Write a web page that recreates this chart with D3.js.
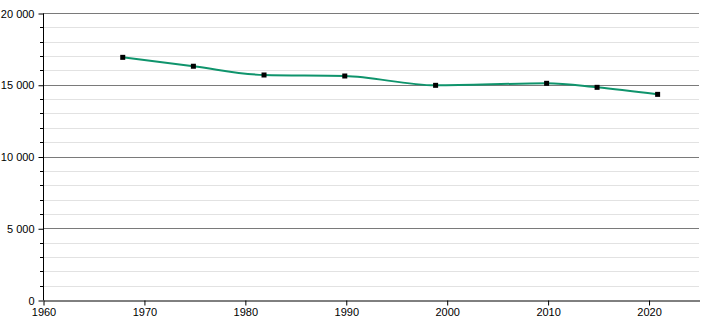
<!DOCTYPE html>
<html>
<head>
<meta charset="utf-8">
<script src="https://cdn.jsdelivr.net/npm/d3@7/dist/d3.min.js"></script>
<style>
	body { margin: 0; background: #fff; }
	text { font-family: "Liberation Sans", Arial, sans-serif; font-size: 11px; fill: #000; }
</style>
</head>
<body>
<svg id="chart" width="710" height="320"></svg>
<script>
// population by census year
var years = [ 1968, 1975, 1982, 1990, 1999, 2010, 2015, 2021 ];
var population = [ 16910, 16290, 15680, 15610, 14960, 15100, 14820, 14330 ];

var xTicks = [ 1960, 1970, 1980, 1990, 2000, 2010, 2020 ];
var yTicks = [ 0, 5000, 10000, 15000, 20000 ];

var padding = { top: 13, right: 10, bottom: 20, left: 43 };
var width = 710, height = 320;

var svg = d3.select( '#chart' );

var x = d3.scaleLinear()
	.domain( [ 1960, 2025 ] )
	.range( [ padding.left, width - padding.right - 1 ] );

var y = d3.scaleLinear()
	.domain( [ 0, 20000 ] )
	.range( [ height - padding.bottom, padding.top ] );

var fmt = function ( d ) {
	return d3.format( ',' )( d ).replace( /,/g, ' ' );
};

var minor = d3.range( 0, 20001, 1000 ).filter( function ( d ) { return d % 5000 !== 0; } );

// minor grid
svg.append( 'g' ).selectAll( 'line' )
	.data( minor )
	.enter().append( 'line' )
	.attr( 'x1', x( 1960 ) ).attr( 'x2', x( 2025 ) )
	.attr( 'y1', function ( d ) { return Math.round( y( d ) ) + 0.5; } )
	.attr( 'y2', function ( d ) { return Math.round( y( d ) ) + 0.5; } )
	.style( 'stroke', '#e2e2e2' );

// major grid
svg.append( 'g' ).selectAll( 'line' )
	.data( yTicks.filter( function ( d ) { return d > 0; } ) )
	.enter().append( 'line' )
	.attr( 'x1', x( 1960 ) ).attr( 'x2', x( 2025 ) )
	.attr( 'y1', function ( d ) { return Math.round( y( d ) ) + 0.5; } )
	.attr( 'y2', function ( d ) { return Math.round( y( d ) ) + 0.5; } )
	.style( 'stroke', '#7a7a7a' );

// y axis
var yAxis = svg.append( 'g' )
	.attr( 'transform', 'translate(' + ( padding.left + 0.5 ) + ',0.5)' )
	.call( d3.axisLeft( y ).tickValues( yTicks ).tickFormat( fmt ).tickSize( 5 ).tickPadding( 4 ) );
yAxis.select( '.domain' ).attr( 'd', 'M0,' + Math.round( y( 20000 ) ) + 'V' + Math.round( y( 0 ) ) );
yAxis.selectAll( 'text' ).style( 'font-family', '"Liberation Sans", Arial, sans-serif' ).style( 'font-size', '11px' );

svg.append( 'g' ).selectAll( 'line' )
	.data( minor )
	.enter().append( 'line' )
	.attr( 'x1', padding.left - 3 ).attr( 'x2', padding.left )
	.attr( 'y1', function ( d ) { return Math.round( y( d ) ) + 0.5; } )
	.attr( 'y2', function ( d ) { return Math.round( y( d ) ) + 0.5; } )
	.style( 'stroke', '#000' );

// x axis
var xAxis = svg.append( 'g' )
	.attr( 'transform', 'translate(0.5,' + ( Math.round( y( 0 ) ) + 0.5 ) + ')' )
	.call( d3.axisBottom( x ).tickValues( xTicks ).tickFormat( d3.format( 'd' ) ).tickSize( 5 ).tickSizeOuter( 0 ).tickPadding( 3 ) );
xAxis.selectAll( 'text' ).style( 'font-family', '"Liberation Sans", Arial, sans-serif' ).style( 'font-size', '11px' );

// line + markers (the plot sits ~1px left of the ticks in the original)
var data = years.map( function ( d, i ) { return [ d, population[i] ]; } );
var plot = svg.append( 'g' ).attr( 'transform', 'translate(-1,0)' );

var lineGenerator = d3.line()
	.x( function ( d ) { return x( d[0] ); } )
	.y( function ( d ) { return y( d[1] ); } )
	.curve( d3.curveMonotoneX );

plot.append( 'path' )
	.attr( 'd', lineGenerator( data ) )
	.style( 'fill', 'none' )
	.style( 'stroke', '#0f946c' )
	.style( 'stroke-width', 2 );

plot.append( 'g' ).selectAll( 'rect' )
	.data( data )
	.enter().append( 'rect' )
	.attr( 'x', function ( d ) { return x( d[0] ) - 2.5; } )
	.attr( 'y', function ( d ) { return y( d[1] ) - 2.5; } )
	.attr( 'width', 5 )
	.attr( 'height', 5 )
	.style( 'fill', '#000' );
</script>
</body>
</html>
